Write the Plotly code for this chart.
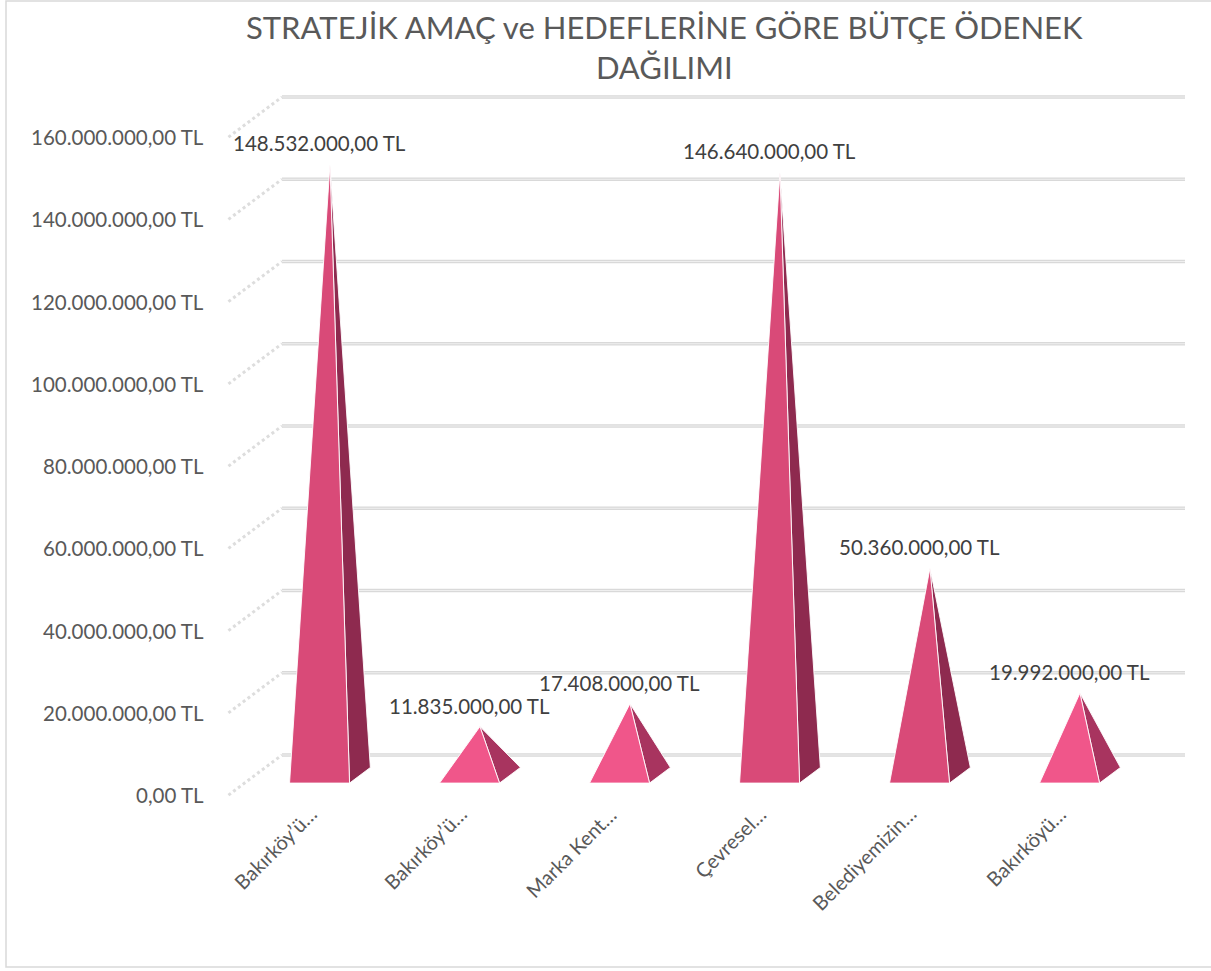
import plotly.graph_objects as go

# ---------------- data ----------------
categories = ["Bakırköy’ü…", "Bakırköy’ü…", "Marka Kent…", "Çevresel…", "Belediyemizin…", "Bakırköyü…"]
values = [148532000, 11835000, 17408000, 146640000, 50360000, 19992000]
tick_values = [0, 20000000, 40000000, 60000000, 80000000, 100000000, 120000000, 140000000, 160000000]
title_text = "STRATEJİK AMAÇ ve HEDEFLERİNE GÖRE BÜTÇE ÖDENEK<br>DAĞILIMI"

# ---------------- style ----------------
front_colors = ["#D94A78", "#F0568A", "#F0568A", "#D94A78", "#D94A78", "#F0568A"]
side_colors = ["#8E2A4F", "#A8345F", "#A8345F", "#8E2A4F", "#8E2A4F", "#A8345F"]
W, H = 1211, 971
FONT = "Lato"


def tl(v):
    s = f"{v:,.2f}"  # 1,234,567.89
    s = s.replace(",", "X").replace(".", ",").replace("X", ".")
    return s + " TL"


# projection of the pseudo-3D scene (pixel geometry of the chart box)
PX0, PXS = 357.0, 150.0          # back-wall pixel x of category 0, pixels per category
PY0, PYK = 755.0, 82.25 / 20e6   # back-wall pixel y of value 0, pixels per TL
DX, DY = -52.0, 39.0             # pixel shift per unit of depth (toward viewer)


def proj(cat, depth, value, dpx=0.0, dpy=0.0):
    """category/depth/value -> axis coordinates (x in category units, y in TL)."""
    x = cat + (DX * depth + dpx) / PXS
    y = value - (DY * depth + dpy) / PYK
    return x, y


fig = go.Figure()

# gridlines: back-wall horizontal part + side-wall diagonal part
X_LEFT, X_RIGHT = -0.5, 5.52
for v in tick_values:
    xa, ya = proj(X_LEFT, 0, v)
    xb, yb = proj(X_RIGHT, 0, v)
    fig.add_trace(go.Scatter(x=[xa, xb], y=[ya, yb], mode="lines",
                             line=dict(color="#D9D9D9", width=3.5),
                             hoverinfo="skip", showlegend=False))
    fig.add_trace(go.Scatter(x=[xa, xb], y=[ya, yb], mode="lines",
                             line=dict(color="#EFEFEF", width=1),
                             hoverinfo="skip", showlegend=False))
    xc, yc = proj(X_LEFT, 1.03, v)
    fig.add_trace(go.Scatter(x=[xc, xa], y=[yc, ya], mode="lines",
                             line=dict(color="#DDDDDD", width=3, dash="dot"),
                             hoverinfo="skip", showlegend=False))

# pyramids
DC, HD, HW = 0.52, 0.2, 30.0 / PXS
annotations = []
for i, (cat, v) in enumerate(zip(categories, values)):
    fl = proj(i - HW, DC + HD, 0)
    fr = proj(i + HW, DC + HD, 0)
    br = proj(i + HW, DC - HD, 0)
    ap = proj(i, DC, v)
    # side face
    fig.add_trace(go.Scatter(x=[fr[0], br[0], ap[0], fr[0]], y=[fr[1], br[1], ap[1], fr[1]],
                             mode="lines", fill="toself", fillcolor=side_colors[i],
                             line=dict(color="rgba(255,255,255,0.9)", width=1), hoverinfo="skip",
                             showlegend=False))
    # front face
    fig.add_trace(go.Scatter(x=[fl[0], fr[0], ap[0], fl[0]], y=[fl[1], fr[1], ap[1], fl[1]],
                             mode="lines", fill="toself", fillcolor=front_colors[i],
                             line=dict(color="rgba(255,255,255,0.9)", width=1), name=cat,
                             hovertemplate=cat + "<br>" + tl(v) + "<extra></extra>",
                             showlegend=False))
    # data label above apex
    lx, ly = proj(i, DC, v, dpx=-10, dpy=-21)
    annotations.append(dict(x=lx, y=ly, text=tl(v), showarrow=False, xanchor="center",
                            yanchor="middle", font=dict(family=FONT, size=20.5, color="#404040")))
    # category label (rotated)
    cx, cy = proj(i, DC + HD, 0, dpx=4, dpy=16)
    annotations.append(dict(x=cx, y=cy, text=cat, showarrow=False, textangle=-45,
                            xanchor="right", yanchor="top",
                            font=dict(family=FONT, size=20, color="#595959")))

# value-axis tick labels
for v in tick_values:
    x, y = proj(X_LEFT, 1.03, v, dpx=-22, dpy=0)
    annotations.append(dict(x=x, y=y, text=tl(v), showarrow=False, xanchor="right",
                            yanchor="middle", font=dict(family=FONT, size=20.5, color="#595959")))

# title
annotations.append(dict(x=664 / W, y=1 - 6 / H, xref="paper", yref="paper", text=title_text,
                        showarrow=False, xanchor="center", yanchor="top",
                        font=dict(family=FONT, size=31, color="#595959")))

fig.update_layout(
    width=W, height=H,
    margin=dict(l=0, r=0, t=0, b=0),
    paper_bgcolor="white", plot_bgcolor="white",
    xaxis=dict(range=[(0 - PX0) / PXS, (W - PX0) / PXS], visible=False, fixedrange=True),
    yaxis=dict(range=[(PY0 - H) / PYK, PY0 / PYK], visible=False, fixedrange=True),
    annotations=annotations,
    shapes=[dict(type="rect", xref="paper", yref="paper", x0=6 / W, x1=1.01, y0=1 - 967 / H,
                 y1=1 - 1 / H, line=dict(color="#D9D9D9", width=1.5), fillcolor="rgba(0,0,0,0)")],
)

fig.write_html("out.html", config={"displayModeBar": False},
               post_script="document.body.style.margin='0px';")
